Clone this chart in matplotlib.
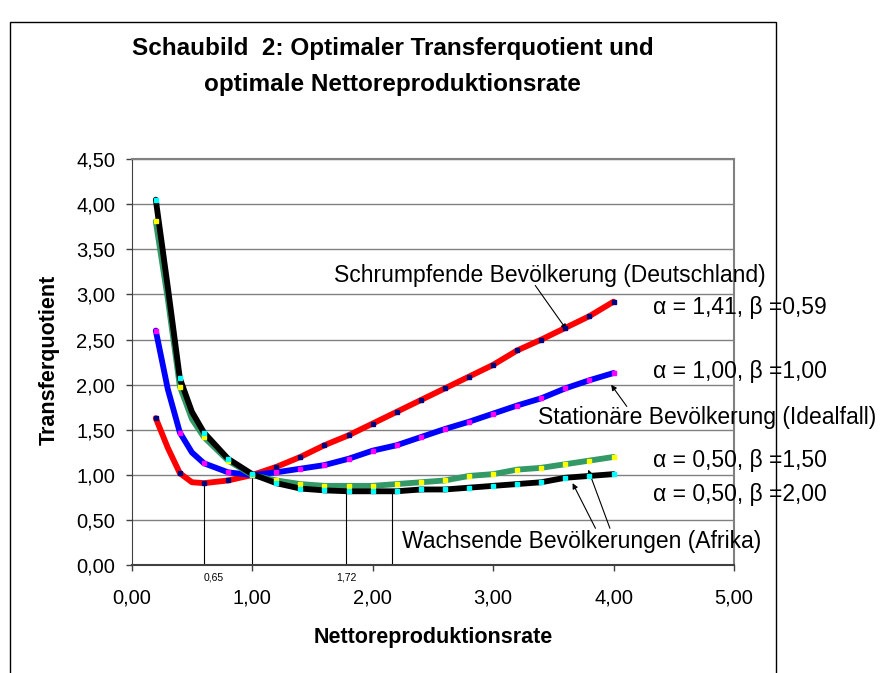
import matplotlib
matplotlib.use("Agg")
import matplotlib.pyplot as plt
from matplotlib.patches import Rectangle
from matplotlib.ticker import FuncFormatter, MultipleLocator

plt.rcParams["font.family"] = ["Liberation Sans", "DejaVu Sans"]

# Nettoreproduktionsrate (x) and Transferquotient per scenario
nrr = [0.2, 0.3, 0.4, 0.5, 0.6, 0.8, 1.0, 1.2, 1.4, 1.6, 1.8, 2.0, 2.2, 2.4,
       2.6, 2.8, 3.0, 3.2, 3.4, 3.6, 3.8, 4.0]
tq_a141 = [1.63, 1.30, 1.02, 0.92, 0.91, 0.94, 1.00, 1.09, 1.20, 1.33, 1.44,
           1.57, 1.70, 1.83, 1.96, 2.09, 2.22, 2.38, 2.50, 2.63, 2.76, 2.92]
tq_a100 = [2.60, 1.95, 1.47, 1.25, 1.13, 1.03, 1.00, 1.03, 1.07, 1.11, 1.18,
           1.27, 1.33, 1.42, 1.51, 1.59, 1.68, 1.77, 1.85, 1.96, 2.05, 2.13]
tq_b150 = [3.81, 2.95, 1.98, 1.62, 1.42, 1.16, 1.00, 0.94, 0.90, 0.88, 0.88,
           0.88, 0.90, 0.92, 0.94, 0.99, 1.01, 1.06, 1.08, 1.12, 1.16, 1.20]
tq_b200 = [4.05, 3.08, 2.07, 1.70, 1.47, 1.18, 1.01, 0.91, 0.85, 0.83, 0.82,
           0.82, 0.82, 0.84, 0.84, 0.86, 0.88, 0.90, 0.92, 0.97, 0.99, 1.01]
# data markers only sit on the 0.2 grid
marked = [i for i, x in enumerate(nrr) if round(x * 10) % 2 == 0]

param_labels = ["α = 1,41, β =0,59", "α = 1,00, β =1,00",
                "α = 0,50, β =1,50", "α = 0,50, β =2,00"]
param_y = [2.86, 2.15, 1.16, 0.78]

# vertical drop lines (x, top) and their small labels
drop_x = [0.60, 1.00, 1.78, 2.16]
drop_top = [0.91, 1.00, 0.81, 0.82]
drop_labels = [(0.68, "0,65"), (1.78, "1,72")]


def comma(v, pos):
    return f"{v:.2f}".replace(".", ",")


fig = plt.figure(figsize=(8.91, 6.73), dpi=100)
ax = fig.add_axes([0.1478, 0.16, 0.676, 0.6037])

series = [
    (tq_a141, "#ff0000", "#000080"),
    (tq_a100, "#0000ff", "#ff00ff"),
    (tq_b150, "#339966", "#ffff00"),
    (tq_b200, "#000000", "#00ffff"),
]
for ys, col, mcol in series:
    ax.plot(nrr, ys, color=col, lw=4.2, solid_capstyle="round",
            solid_joinstyle="round", zorder=3)
    ax.plot(nrr, ys, ls="none", marker="s", ms=2.6, mfc=mcol, mec=mcol,
            markevery=marked, zorder=4)

for x, top in zip(drop_x, drop_top):
    ax.plot([x, x], [0, top], color="black", lw=0.8, zorder=2)
for x, lab in drop_labels:
    ax.text(x, -0.14, lab, fontsize=7.5, ha="center", va="center")

ax.set_xlim(0, 5)
ax.set_ylim(0, 4.5)
ax.xaxis.set_major_locator(MultipleLocator(1))
ax.yaxis.set_major_locator(MultipleLocator(0.5))
ax.xaxis.set_major_formatter(FuncFormatter(comma))
ax.yaxis.set_major_formatter(FuncFormatter(comma))
ax.tick_params(labelsize=14.5, length=4, width=1, direction="out",
               color="#404040")
ax.tick_params(axis="x", pad=13)
ax.tick_params(axis="y", pad=8)
ax.grid(axis="y", color="#808080", lw=1, zorder=1)
ax.set_axisbelow(True)
for side in ["top", "right"]:
    ax.spines[side].set_color("#808080")
    ax.spines[side].set_linewidth(1.5)
ax.spines["left"].set_color("#404040")
ax.spines["bottom"].set_color("#404040")
ax.spines["bottom"].set_linewidth(1.5)

fig.text(433 / 891, 1 - 637 / 673, "Nettoreproduktionsrate", fontsize=15.5,
         fontweight="bold", ha="center", va="center")
fig.text(49 / 891, 1 - 360 / 673, "Transferquotient", fontsize=15.5,
         fontweight="bold", ha="center", va="center", rotation=90)

ax.text(1.68, 3.21, "Schrumpfende Bevölkerung (Deutschland)", fontsize=16.5,
        va="center", clip_on=False)
ax.text(3.37, 1.64, "Stationäre Bevölkerung (Idealfall)", fontsize=16.5,
        va="center", clip_on=False)
ax.text(2.24, 0.26, "Wachsende Bevölkerungen (Afrika)", fontsize=16.5,
        va="center", clip_on=False)
for lab, y in zip(param_labels, param_y):
    ax.text(4.33, y, lab, fontsize=16.5, va="center", clip_on=False)

arrow = dict(arrowstyle="-|>", color="black", lw=0.8, mutation_scale=8,
             shrinkA=0, shrinkB=0)
ax.annotate("", xy=(3.61, 2.61), xytext=(3.35, 3.10), arrowprops=arrow)
ax.annotate("", xy=(3.98, 2.00), xytext=(4.11, 1.76), arrowprops=arrow)
ax.annotate("", xy=(3.66, 0.91), xytext=(3.85, 0.41), arrowprops=arrow)
ax.annotate("", xy=(3.79, 1.06), xytext=(3.97, 0.41), arrowprops=arrow)

fig.text(0.4405, 1 - 49 / 673, "Schaubild  2: Optimaler Transferquotient und",
         fontsize=17.5, fontweight="bold", ha="center", va="center")
fig.text(0.4405, 1 - 84 / 673, "optimale Nettoreproduktionsrate",
         fontsize=17.5, fontweight="bold", ha="center", va="center")

fig.patches.append(Rectangle((10 / 891, -0.05), 766 / 891, 1 - 22 / 673 + 0.05,
                             transform=fig.transFigure, fill=False,
                             edgecolor="black", lw=1))

fig.savefig("out.png", dpi=100)
